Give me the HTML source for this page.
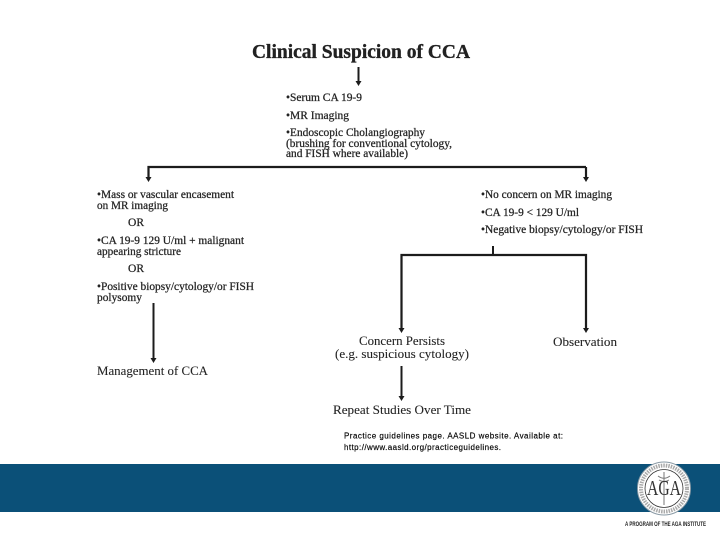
<!DOCTYPE html>
<html>
<head>
<meta charset="utf-8">
<title>Clinical Suspicion of CCA</title>
<style>
html,body{margin:0;padding:0;background:#fff;}
svg{display:block;}
.s{font-family:"Liberation Serif",serif;fill:#222;}
.b{font-size:11.5px;stroke:#222;stroke-width:0.25px;}
.l{font-size:12.5px;stroke:#333;stroke-width:0.1px;}
.p{font-family:"Liberation Sans",sans-serif;font-size:8px;fill:#000;stroke:#000;stroke-width:0.15px;}
</style>
</head>
<body>
<svg width="720" height="540" viewBox="0 0 720 540" xmlns="http://www.w3.org/2000/svg">
<defs>
<filter id="soft" x="-5%" y="-5%" width="110%" height="110%"><feGaussianBlur stdDeviation="0.35"/></filter>
</defs>
<rect width="720" height="540" fill="#fff"/>
<g filter="url(#soft)">
<text class="s" x="252" y="58" font-size="19.500" font-weight="bold" fill="#111" stroke="#111" stroke-width="0.3" textLength="218" lengthAdjust="spacingAndGlyphs">Clinical Suspicion of CCA</text>

<text class="s b" x="286" y="101" textLength="76" lengthAdjust="spacingAndGlyphs">•Serum CA 19-9</text>
<text class="s b" x="286" y="119" textLength="63" lengthAdjust="spacingAndGlyphs">•MR Imaging</text>
<text class="s b" x="286" y="136" textLength="139" lengthAdjust="spacingAndGlyphs">•Endoscopic Cholangiography</text>
<text class="s b" x="286" y="147" textLength="166" lengthAdjust="spacingAndGlyphs">(brushing for conventional cytology,</text>
<text class="s b" x="286" y="157" textLength="122" lengthAdjust="spacingAndGlyphs">and FISH where available)</text>

<text class="s b" x="97" y="198" textLength="137" lengthAdjust="spacingAndGlyphs">•Mass or vascular encasement</text>
<text class="s b" x="97" y="209" textLength="71" lengthAdjust="spacingAndGlyphs">on MR imaging</text>
<text class="s b" x="128" y="226" textLength="16" lengthAdjust="spacingAndGlyphs">OR</text>
<text class="s b" x="97" y="244" textLength="147" lengthAdjust="spacingAndGlyphs">•CA 19-9 129 U/ml + malignant</text>
<text class="s b" x="97" y="255" textLength="84" lengthAdjust="spacingAndGlyphs">appearing stricture</text>
<text class="s b" x="128" y="272" textLength="16" lengthAdjust="spacingAndGlyphs">OR</text>
<text class="s b" x="97" y="290" textLength="157" lengthAdjust="spacingAndGlyphs">•Positive biopsy/cytology/or FISH</text>
<text class="s b" x="97" y="301" textLength="45" lengthAdjust="spacingAndGlyphs">polysomy</text>
<text class="s l" x="97" y="375" textLength="111" lengthAdjust="spacingAndGlyphs">Management of CCA</text>

<text class="s b" x="481" y="198" textLength="131" lengthAdjust="spacingAndGlyphs">•No concern on MR imaging</text>
<text class="s b" x="481" y="216" textLength="98" lengthAdjust="spacingAndGlyphs">•CA 19-9 &lt; 129 U/ml</text>
<text class="s b" x="481" y="233" textLength="162" lengthAdjust="spacingAndGlyphs">•Negative biopsy/cytology/or FISH</text>

<text class="s l" x="359" y="345" textLength="86" lengthAdjust="spacingAndGlyphs">Concern Persists</text>
<text class="s l" x="335" y="358" textLength="134" lengthAdjust="spacingAndGlyphs">(e.g. suspicious cytology)</text>
<text class="s l" x="553" y="346" textLength="64" lengthAdjust="spacingAndGlyphs">Observation</text>
<text class="s l" x="333" y="414" textLength="138" lengthAdjust="spacingAndGlyphs">Repeat Studies Over Time</text>

<g stroke="#1c1c1c" fill="none">
<path d="M358.500 67V82" stroke-width="2"/>
<path d="M586 167H148.500V178" stroke-width="2.200"/>
<path d="M586 167V178" stroke-width="2.200"/>
<path d="M493 246V255" stroke-width="2"/>
<path d="M401.500 329V255H586V329" stroke-width="2.200"/>
<path d="M153.500 303V359" stroke-width="2"/>
<path d="M401.500 366V397" stroke-width="2"/>
</g>
<g fill="#1c1c1c">
<path d="M355.500 81h6L358.500 86z"/>
<path d="M145.500 177h6L148.500 182z"/>
<path d="M583 177h6L586 182z"/>
<path d="M398.500 328h6L401.500 333z"/>
<path d="M583 328h6L586 333z"/>
<path d="M150.500 358h6L153.500 363z"/>
<path d="M398.500 396h6L401.500 401z"/>
</g>
</g>

<text class="p" x="344" y="438.500" textLength="219" lengthAdjust="spacing">Practice guidelines page. AASLD website. Available at:</text>
<text class="p" x="344" y="450" textLength="157" lengthAdjust="spacing">http://www.aasld.org/practiceguidelines.</text>

<rect x="0" y="464" width="720" height="48" fill="#0b5078"/>

<g filter="url(#soft)">
<circle cx="664" cy="488.500" r="26.500" fill="#fff" stroke="#8a9aa5" stroke-width="1"/>
<circle cx="664" cy="488.500" r="23" fill="none" stroke="#aaa" stroke-width="4" stroke-dasharray="1.500 1"/>
<circle cx="664" cy="488.500" r="19" fill="#fff" stroke="#333" stroke-width="0.800"/>
<path d="M664 472V505M658 476c4 3 8 3 12 0M659 480c3 2 7 2 10 0" stroke="#777" stroke-width="1" fill="none"/>
<text x="664" y="495" text-anchor="middle" font-family="Liberation Serif,serif" font-size="21" fill="#333" textLength="34" lengthAdjust="spacingAndGlyphs">AGA</text>
<text x="625" y="526" font-family="Liberation Sans,sans-serif" font-size="6.500" font-weight="bold" fill="#222" textLength="81" lengthAdjust="spacingAndGlyphs">A PROGRAM OF THE AGA INSTITUTE</text>
</g>
</svg>
</body>
</html>
